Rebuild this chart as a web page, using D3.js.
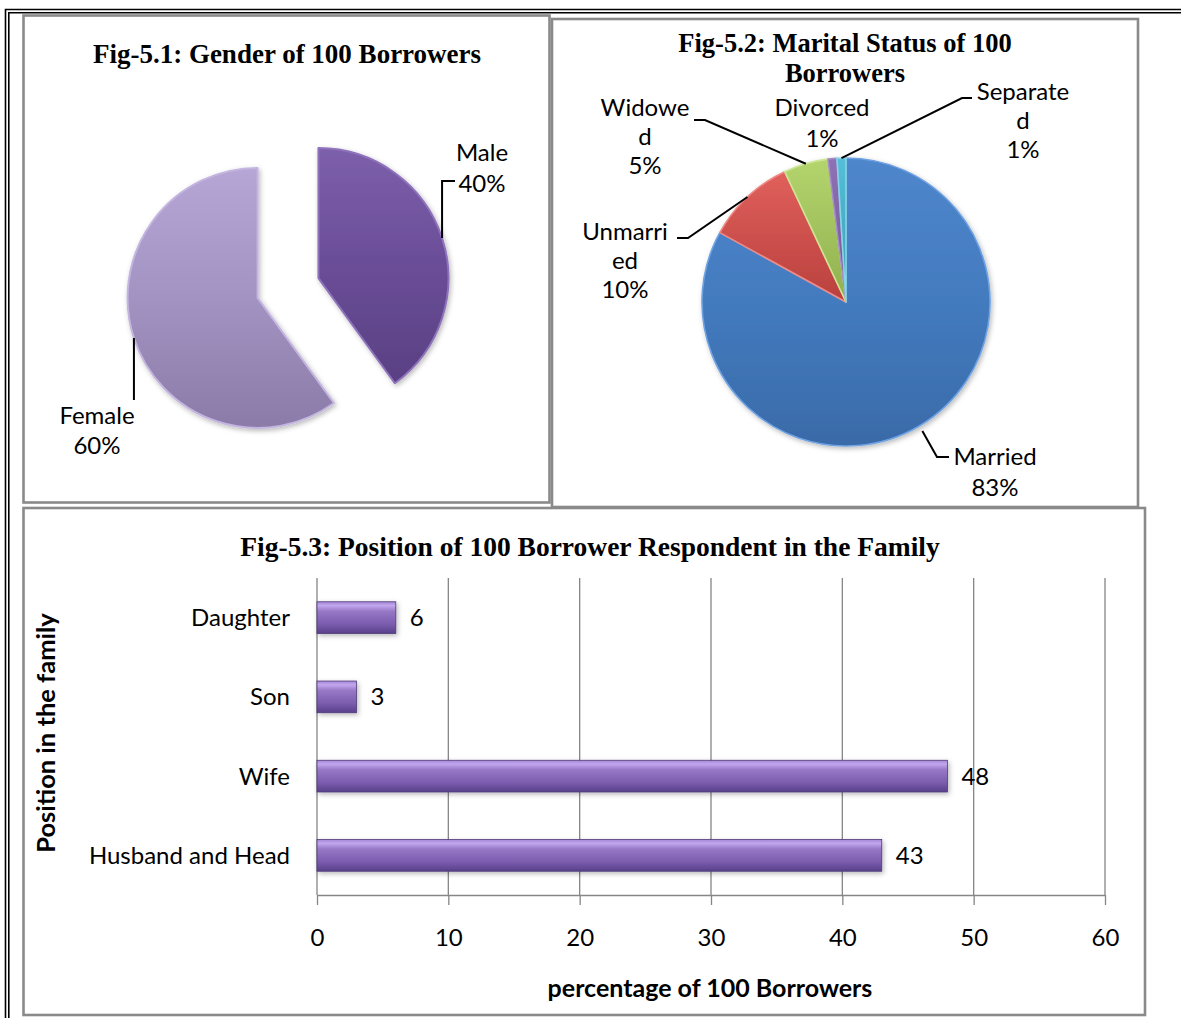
<!DOCTYPE html>
<html>
<head>
<meta charset="utf-8">
<script src="https://cdn.jsdelivr.net/npm/d3@7"></script>
<style>
  html, body { margin: 0; padding: 0; background: #fff; }
  svg { display: block; }
</style>
</head>
<body>
<svg id="chart" width="1181" height="1018"></svg>
<script>
// ---- Fig-5.1: gender ----
const genderCategories = ["Male", "Female"];
const genderValues = [40, 60];

// ---- Fig-5.2: marital status (label lines wrap as in the chart) ----
const maritalCategories = ["Married", "Unmarried", "Widowed", "Divorced", "Separated"];
const maritalValues = [83, 10, 5, 1, 1];
const maritalLabelLines = [["Married"], ["Unmarri", "ed"], ["Widowe", "d"], ["Divorced"], ["Separate", "d"]];

// ---- Fig-5.3: position in the family ----
const positionCategories = ["Husband and Head", "Wife", "Son", "Daughter"];
const positionValues = [43, 48, 3, 6];
const xTickValues = [0, 10, 20, 30, 40, 50, 60];

const svg = d3.select("#chart");
const defs = svg.append("defs");
const SERIF = "'Liberation Serif', 'Times New Roman', serif";
const SANS = "Lato, 'Open Sans', sans-serif";
const LABEL_SIZE = 24;

// soft shadow under the pie slices and bars
const shadow = defs.append("filter").attr("id", "soft").attr("x", "-20%").attr("y", "-20%")
  .attr("width", "140%").attr("height", "140%");
shadow.append("feDropShadow").attr("dx", 1.5).attr("dy", 2).attr("stdDeviation", 2.5)
  .attr("flood-color", "#000").attr("flood-opacity", 0.28);

function vGrad(id, stops) {
  const g = defs.append("linearGradient").attr("id", id)
    .attr("x1", 0).attr("y1", 0).attr("x2", 0).attr("y2", 1);
  stops.forEach(([o, c]) => g.append("stop").attr("offset", o).attr("stop-color", c));
  return `url(#${id})`;
}

// ---- page frame (double rule) ----
const frame = svg.append("g").attr("stroke", "#000").attr("stroke-width", 1.6).attr("fill", "none");
frame.append("path").attr("d", "M5.5,1018 V9.5 H1181");
frame.append("path").attr("d", "M8.8,1018 V12.7 H1181");

// ---- panel boxes ----
const panels = [
  [23.5, 15.5, 549.5, 502.5],
  [552, 19, 1138, 507],
  [23.5, 508, 1145, 1015]
];
svg.append("g").selectAll("rect").data(panels).join("rect")
  .attr("x", d => d[0]).attr("y", d => d[1])
  .attr("width", d => d[2] - d[0]).attr("height", d => d[3] - d[1])
  .attr("fill", "none").attr("stroke", "#8a8a8a").attr("stroke-width", 2.6);

// =============== Fig-5.1 ===============
{
  const g = svg.append("g");
  g.append("text").attr("x", 287).attr("y", 63).attr("text-anchor", "middle")
    .attr("font-family", SERIF).attr("font-weight", "bold").attr("font-size", 27)
    .text("Fig-5.1: Gender of 100 Borrowers");

  const cx = 288, cy = 288, r = 130, explode = 32;
  const pie = d3.pie().sort(null).value(d => d.v)(genderCategories.map((c, i) => ({ c, v: genderValues[i] })));
  const arc = d3.arc().innerRadius(0).outerRadius(r);
  const fills = [
    vGrad("gMale", [[0, "#7d5fab"], [0.5, "#6a4d97"], [1, "#594083"]]),
    vGrad("gFemale", [[0, "#b5a6d5"], [0.5, "#a393c2"], [1, "#8b7ba8"]])
  ];
  const rims = ["#8e72bb", "#c3b5df"];
  const mid = d => (d.startAngle + d.endAngle) / 2;
  const off = d => [explode * Math.sin(mid(d)), -explode * Math.cos(mid(d))];

  const slices = g.append("g").attr("filter", "url(#soft)");
  slices.selectAll("path").data(pie).join("path")
    .attr("transform", d => { const o = off(d); return `translate(${cx + o[0]},${cy + o[1]})`; })
    .attr("d", arc).attr("fill", (d, i) => fills[i])
    .attr("stroke", (d, i) => rims[i]).attr("stroke-width", 2).attr("stroke-linejoin", "round");

  // leader lines and labels
  const rimPt = d => { const o = off(d); const a = mid(d);
    return [cx + o[0] + r * Math.sin(a), cy + o[1] - r * Math.cos(a)]; };
  const male = pie[0], female = pie[1];
  const pm = rimPt(male), pf = rimPt(female);
  const lead = g.append("g").attr("stroke", "#000").attr("stroke-width", 2).attr("fill", "none");
  lead.append("path").attr("d", `M${pm[0]},${pm[1]} V181 H455`);
  lead.append("path").attr("d", `M${pf[0]},${pf[1]} V400`);

  const lab = g.append("g").attr("font-family", SANS).attr("font-size", LABEL_SIZE).attr("fill", "#000")
    .attr("text-anchor", "middle");
  lab.append("text").attr("x", 482).attr("y", 161).text(male.data.c);
  lab.append("text").attr("x", 482).attr("y", 192).text(male.data.v + "%");
  lab.append("text").attr("x", 97).attr("y", 424).text(female.data.c);
  lab.append("text").attr("x", 97).attr("y", 454).text(female.data.v + "%");
}

// =============== Fig-5.2 ===============
{
  const g = svg.append("g");
  const t = g.append("text").attr("text-anchor", "middle")
    .attr("font-family", SERIF).attr("font-weight", "bold").attr("font-size", 26.5);
  t.append("tspan").attr("x", 845).attr("y", 52).text("Fig-5.2: Marital Status of 100");
  t.append("tspan").attr("x", 845).attr("y", 82).text("Borrowers");

  const cx = 846, cy = 302, r = 144;
  const pie = d3.pie().sort(null).value(d => d.v)(maritalCategories.map((c, i) => ({ c, v: maritalValues[i], lines: maritalLabelLines[i] })));
  const arc = d3.arc().innerRadius(0).outerRadius(r);
  const fills = [
    vGrad("gMar", [[0, "#4f86cc"], [0.5, "#437bbf"], [1, "#3a6aa8"]]),
    vGrad("gUnm", [[0, "#e0605c"], [1, "#b9403d"]]),
    vGrad("gWid", [[0, "#b4d46e"], [1, "#8fb04d"]]),
    vGrad("gDiv", [[0, "#8f72b5"], [1, "#6f5595"]]),
    vGrad("gSep", [[0, "#55bfd8"], [1, "#3d9ab4"]])
  ];
  const rims = ["#6ea2e2", "#ef8a86", "#cde594", "#a58cc8", "#86d4e6"];
  const slices = g.append("g").attr("filter", "url(#soft)").attr("transform", `translate(${cx},${cy})`);
  slices.selectAll("path").data(pie).join("path")
    .attr("d", arc).attr("fill", (d, i) => fills[i])
    .attr("stroke", (d, i) => rims[i]).attr("stroke-width", 1.6).attr("stroke-linejoin", "round");

  const mid = d => (d.startAngle + d.endAngle) / 2;
  const rimPt = (d, rr) => [cx + rr * Math.sin(mid(d)), cy - rr * Math.cos(mid(d))];

  // label anchor (centre x, first baseline) and leader path per slice
  const layout = [
    { x: 995, y: 465, lead: d => { const p = rimPt(d, r + 6); return `M${p[0]},${p[1]} L937,457 H949`; } },
    { x: 625, y: 240, lead: d => { const p = rimPt(d, r); return `M${p[0]},${p[1]} L688,238 H677`; } },
    { x: 645, y: 116, lead: d => { const p = rimPt(d, r); return `M${p[0]},${p[1]} L705,120 H694`; } },
    { x: 822, y: 116, lead: null },
    { x: 1023, y: 100, lead: d => { const p = rimPt(d, r); return `M${p[0]},${p[1]} L962,98 H972`; } }
  ];
  const lead = g.append("g").attr("stroke", "#000").attr("stroke-width", 2).attr("fill", "none");
  pie.forEach((d, i) => { if (layout[i].lead) lead.append("path").attr("d", layout[i].lead(d)); });

  const lab = g.append("g").attr("font-family", SANS).attr("font-size", LABEL_SIZE).attr("fill", "#000")
    .attr("text-anchor", "middle");
  pie.forEach((d, i) => {
    const lines = d.data.lines.concat([d.data.v + "%"]);
    const lh = lines.length === 2 ? 31 : 29;
    const txt = lab.append("text");
    lines.forEach((s, k) => txt.append("tspan").attr("x", layout[i].x).attr("y", layout[i].y + k * lh).text(s));
  });
}

// =============== Fig-5.3 ===============
{
  const g = svg.append("g");
  g.append("text").attr("x", 590).attr("y", 556).attr("text-anchor", "middle")
    .attr("font-family", SERIF).attr("font-weight", "bold").attr("font-size", 27.5)
    .text("Fig-5.3: Position of 100 Borrower Respondent in the Family");

  const x = d3.scaleLinear().domain([0, 60]).range([317, 1105]);
  const y = d3.scaleBand().domain(positionCategories.slice().reverse()).range([578, 895])
    .paddingInner(0.6).paddingOuter(0.3);

  // vertical gridlines with ticks below the axis
  const xAxis = d3.axisBottom(x).tickValues(xTickValues).tickSize(10).tickSizeOuter(0).tickPadding(24);
  const ax = g.append("g").attr("transform", "translate(0,895)").call(xAxis);
  ax.select(".domain").attr("stroke", "#868686").attr("stroke-width", 1.3);
  ax.selectAll(".tick line").attr("stroke", "#868686").attr("stroke-width", 1.3);
  ax.selectAll(".tick text").attr("font-family", SANS).attr("font-size", LABEL_SIZE).attr("fill", "#000");
  g.append("g").selectAll("line").data(xTickValues).join("line")
    .attr("x1", d => x(d)).attr("x2", d => x(d)).attr("y1", 578).attr("y2", 895)
    .attr("stroke", "#868686").attr("stroke-width", 1.3);

  const barFill = vGrad("gBar", [[0, "#a486d4"], [0.12, "#c2a6ee"], [0.3, "#9678c6"], [0.7, "#7b5cae"], [1, "#58408a"]]);
  const bars = g.append("g").attr("filter", "url(#soft)");
  bars.selectAll("rect").data(positionCategories).join("rect")
    .attr("x", x(0)).attr("y", d => y(d))
    .attr("width", (d, i) => x(positionValues[i]) - x(0)).attr("height", y.bandwidth())
    .attr("fill", barFill).attr("stroke", "#4f3a78").attr("stroke-width", 0.8);

  // value labels
  g.append("g").selectAll("text").data(positionCategories).join("text")
    .attr("x", (d, i) => x(positionValues[i]) + 14).attr("y", d => y(d) + y.bandwidth() / 2)
    .attr("dy", "0.35em").attr("font-family", SANS).attr("font-size", LABEL_SIZE)
    .text((d, i) => positionValues[i]);

  // category labels
  g.append("g").selectAll("text").data(positionCategories).join("text")
    .attr("x", 290).attr("y", d => y(d) + y.bandwidth() / 2).attr("dy", "0.35em")
    .attr("text-anchor", "end").attr("font-family", SANS).attr("font-size", LABEL_SIZE)
    .text(d => d);

  g.append("text").attr("transform", "translate(55,733) rotate(-90)").attr("text-anchor", "middle")
    .attr("font-family", SANS).attr("font-weight", "bold").attr("font-size", 25.5)
    .text("Position in the family");
  g.append("text").attr("x", 710).attr("y", 997).attr("text-anchor", "middle")
    .attr("font-family", SANS).attr("font-weight", "bold").attr("font-size", 25)
    .text("percentage of 100 Borrowers");
}
</script>
</body>
</html>
